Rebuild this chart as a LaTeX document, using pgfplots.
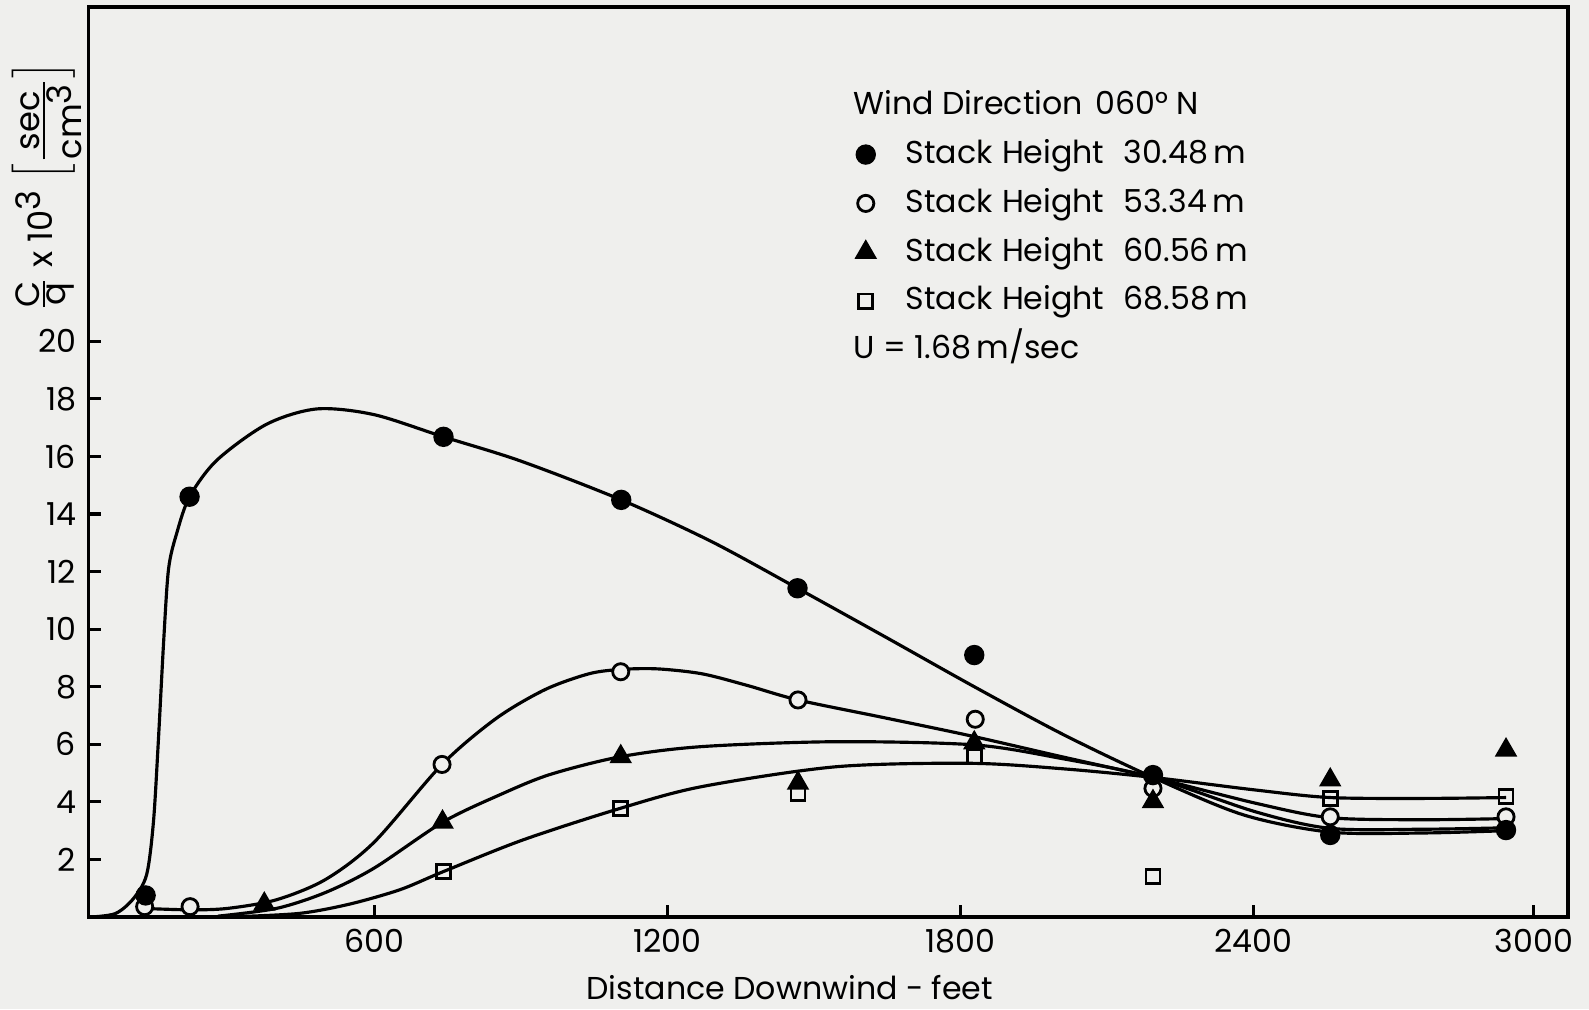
\documentclass[border=0pt]{standalone}
\usepackage{pgfplots}
\pgfplotsset{compat=1.18}
\usepackage{fontspec}
\setmainfont{Poppins}
\definecolor{paper}{RGB}{239,239,237}

\begin{document}
\begin{tikzpicture}[font=\fontsize{9}{11}\selectfont]
\fill[paper] (-0.885,-0.92) rectangle (15.005,9.17);
\useasboundingbox (-0.885,-0.92) rectangle (15.005,9.17);
\begin{axis}[
    scale only axis,
    width=14.795cm, height=9.097cm,
    at={(0,0)}, anchor=south west,
    xmin=15, xmax=3045, ymin=0, ymax=31.6,
    clip=false,
    axis line style={line width=1.1pt},
    xtick={600,1200,1800,2400,2975},
    xticklabels={600,1200,1800,2400,3000},
    ytick={2,4,...,20},
    tick align=inside,
    major tick length=0.12cm,
    tick style={line width=0.9pt, black},
    xtick pos=bottom, ytick pos=left,
    /pgf/number format/assume math mode=true,
    tick label style={font=\fontsize{9}{11}\selectfont},
    xlabel={Distance Downwind - feet},
    xlabel style={at={(axis description cs:0.474,-0.078)}, anchor=center},
    ylabel={$\frac{\textnormal{C}}{\textnormal{q}}$ x 10$^{\textnormal{3}}$ $\Big[\frac{\textnormal{sec}}{\textnormal{cm}^{\textnormal{3}}}\Big]$},
    ylabel style={at={(axis description cs:-0.028,0.803)}, anchor=center, inner sep=0pt,
        font=\fontsize{9.6}{11.5}\selectfont},
    legend style={at={(axis description cs:0.5046,0.910)}, anchor=north west,
        draw=none, fill=none, inner sep=0pt,
        nodes={inner ysep=0pt, inner xsep=2.8pt, text height=7pt, text depth=2pt},
        row sep=4.9pt, font=\fontsize{9}{11}\selectfont},
    legend cell align=left,
]
% legend rows
\addlegendimage{empty legend}
\addlegendentry{\hspace*{-0.32cm}Wind Direction\hspace{0.4em}060° N}
\addlegendimage{only marks, mark=*, mark size=2.7pt, black}
\addlegendentry{\hspace*{0.2cm}Stack\hspace{0.3em}Height\hspace{0.6em}30.48\,m}
\addlegendimage{only marks, mark=*, mark size=2.3pt, mark options={fill=paper, draw=black, line width=0.8pt}}
\addlegendentry{\hspace*{0.2cm}Stack\hspace{0.3em}Height\hspace{0.6em}53.34\,m}
\addlegendimage{only marks, mark=triangle*, mark size=3.3pt, black}
\addlegendentry{\hspace*{0.2cm}Stack\hspace{0.3em}Height\hspace{0.6em}60.56\,m}
\addlegendimage{only marks, mark=square, mark size=2.0pt, mark options={fill=paper, draw=black, line width=0.8pt}}
\addlegendentry{\hspace*{0.2cm}Stack\hspace{0.3em}Height\hspace{0.6em}68.58\,m}
\addlegendimage{empty legend}
\addlegendentry{\hspace*{-0.32cm}U = 1.68\,m/sec}

% fitted curves
\addplot[black, line width=0.9pt, smooth, forget plot] coordinates {
(18,0) (70,0.12) (107,0.64) (134,1.47) (148,3.3) (158,6.1) (169,9.6) (179,12.1)
(196,13.35) (222,14.6) (278,15.87) (380,17.12) (483,17.65) (600,17.45) (742,16.68)
(900,15.84) (1106,14.49) (1290,13.05) (1467,11.42) (1650,9.7) (1829,8.0) (2010,6.35)
(2195,4.85) (2380,3.55) (2558,2.95) (2750,2.92) (2918,3.0)};
\addplot[black, line width=0.9pt, smooth, forget plot] coordinates {
(127,0.3) (223,0.25) (300,0.3) (400,0.6) (500,1.3) (600,2.6) (739,5.3) (850,6.9)
(950,7.9) (1040,8.45) (1105,8.6) (1180,8.62) (1271,8.45) (1363,8.05) (1468,7.54)
(1637,6.95) (1820,6.3) (2000,5.6) (2195,4.85) (2406,3.95) (2558,3.45) (2750,3.38) (2918,3.42)};
\addplot[black, line width=0.9pt, smooth, forget plot] coordinates {
(280,0.03) (400,0.3) (500,0.85) (600,1.7) (741,3.3) (858,4.25) (960,4.95) (1105,5.57)
(1271,5.92) (1546,6.09) (1829,5.98) (2010,5.5) (2195,4.85) (2406,3.65) (2558,3.08)
(2750,3.05) (2918,3.1)};
\addplot[black, line width=0.9pt, smooth, forget plot] coordinates {
(330,0.02) (449,0.13) (550,0.45) (653,0.95) (742,1.58) (905,2.68) (1105,3.78) (1271,4.53)
(1546,5.22) (1820,5.34) (2010,5.15) (2195,4.85) (2406,4.41) (2558,4.15)
(2750,4.12) (2918,4.15)};

% measured points
\addplot[only marks, mark=*, mark size=2.3pt, mark options={fill=paper, draw=black, line width=0.8pt}, forget plot] coordinates {
(130,0.36) (223,0.36) (739,5.3) (1105,8.52) (1468,7.54) (1831,6.87) (2195,4.47) (2558,3.48) (2918,3.48)};
\addplot[only marks, mark=*, mark size=2.7pt, black, forget plot] coordinates {
(132,0.75) (222,14.6) (742,16.68) (1106,14.49) (1467,11.42) (1829,9.1) (2195,4.93) (2558,2.85) (2918,3.02)};
\addplot[only marks, mark=triangle*, mark size=3.3pt, black, forget plot] coordinates {
(375,0.45) (740,3.3) (1105,5.57) (1468,4.65) (1829,6.05) (2195,4.01) (2558,4.76) (2918,5.80)};
\addplot[only marks, mark=square, mark size=2.0pt, mark options={fill=paper, draw=black, line width=0.8pt}, forget plot] coordinates {
(742,1.58) (1105,3.78) (1468,4.30) (1829,5.57) (2195,1.40) (2558,4.12) (2918,4.18)};
\end{axis}
\end{tikzpicture}
\end{document}
